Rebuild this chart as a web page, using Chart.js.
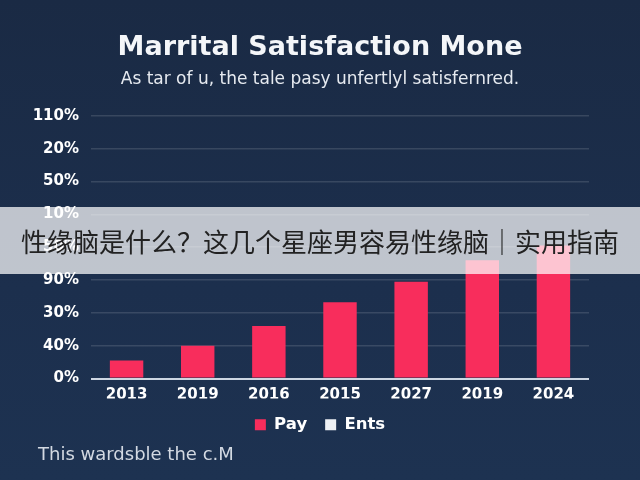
<!DOCTYPE html>
<html>
<head>
<meta charset="utf-8">
<script src="https://cdn.jsdelivr.net/npm/chart.js@4"></script>
<style>
  body { margin: 0; width: 640px; height: 480px; overflow: hidden;
         background: linear-gradient(180deg, #1a2a44 0%, #1c2f4d 60%, #1d3251 100%); }
  #wrap { position: relative; width: 640px; height: 480px; }
  #banner { position: absolute; left: 0; top: 207px; width: 640px; height: 67px;
            background: rgba(255, 255, 255, 0.72); color: #222;
            font-family: "Noto Sans CJK SC", sans-serif; font-size: 26px;
            line-height: 67px; text-align: center; white-space: nowrap; }
</style>
</head>
<body>
<div id="wrap">
  <canvas id="barChart" width="640" height="480"></canvas>
  <div id="banner">性缘脑是什么？这几个星座男容易性缘脑｜实用指南</div>
</div>
<script>
// chart data
const years = ['2013', '2019', '2016', '2015', '2027', '2019', '2024'];
const payValues = [0.55, 1.0, 1.6, 2.32, 2.95, 3.6, 4.05];
const entsValues = [null, null, null, null, null, null, null];
// y tick labels, bottom to top (odd order as in the picture)
const yTickLabels = ['0%', '40%', '30%', '90%', '50%', '10%', '50%', '20%', '110%'];

const titleText = 'Marrital Satisfaction Mone';
const subtitleText = 'As tar of u, the tale pasy unfertlyl satisfernred.';
const footerText = 'This wardsble the c.M';

// draws the little note under the legend
const footerNote = {
    id: 'footerNote',
    afterDraw(chart, args, opts) {
        const ctx = chart.ctx;
        ctx.save();
        ctx.font = '18px "DejaVu Sans"';
        ctx.fillStyle = '#d3d9e2';
        ctx.textBaseline = 'middle';
        ctx.fillText(opts.text, 38, 455);
        ctx.restore();
    }
};

const ctx = document.getElementById('barChart').getContext('2d');
const myChart = new Chart(ctx, {
    type: 'bar',
    data: {
        labels: years,
        datasets: [{
            label: 'Pay',
            data: payValues,
            backgroundColor: '#f82d5c',
            borderWidth: 0
        }, {
            label: 'Ents',
            data: entsValues,
            backgroundColor: '#eef1f5',
            borderWidth: 0
        }]
    },
    plugins: [footerNote],
    options: {
        responsive: false,
        animation: false,
        layout: { padding: { left: 30, right: 30, top: 0, bottom: 37 } },
        datasets: {
            bar: { grouped: false, barPercentage: 0.47, categoryPercentage: 1 }
        },
        scales: {
            x: {
                grid: { display: false, drawTicks: false },
                border: { display: false },
                // keep the legend close under the year labels
                afterFit: s => { s.height = 20; },
                ticks: {
                    color: '#ffffff',
                    padding: 8,
                    font: { family: 'DejaVu Sans', size: 15, weight: 'bold' }
                }
            },
            y: {
                min: 0,
                max: 8,
                border: { display: false },
                afterFit: s => { s.width = 61; },
                grid: {
                    drawTicks: false,
                    color: c => c.tick && c.tick.value === 0 ? '#cdd6e2' : 'rgba(255,255,255,0.13)',
                    lineWidth: c => c.tick && c.tick.value === 0 ? 2 : 1.5
                },
                ticks: {
                    stepSize: 1,
                    padding: 12,
                    color: '#ffffff',
                    font: { family: 'DejaVu Sans', size: 15, weight: 'bold' },
                    callback: v => yTickLabels[v]
                }
            },
            // empty right gutter so the title stays centred on the page
            yRight: {
                position: 'right',
                grid: { display: false },
                border: { display: false },
                ticks: { display: false },
                afterFit: s => { s.width = 21; }
            }
        },
        plugins: {
            title: {
                display: true,
                text: titleText,
                color: '#f4f6f9',
                padding: { top: 32, bottom: 5 },
                font: { family: 'DejaVu Sans', size: 27, weight: 'bold' }
            },
            subtitle: {
                display: true,
                text: subtitleText,
                color: '#e6eaf0',
                padding: { top: 0, bottom: 26 },
                font: { family: 'DejaVu Sans', size: 17 }
            },
            legend: {
                position: 'bottom',
                labels: {
                    color: '#ffffff',
                    boxWidth: 11,
                    boxHeight: 11,
                    padding: 18,
                    font: { family: 'DejaVu Sans', size: 16.5, weight: 'bold' }
                }
            },
            tooltip: { enabled: false },
            footerNote: { text: footerText }
        }
    }
});
</script>
</body>
</html>
